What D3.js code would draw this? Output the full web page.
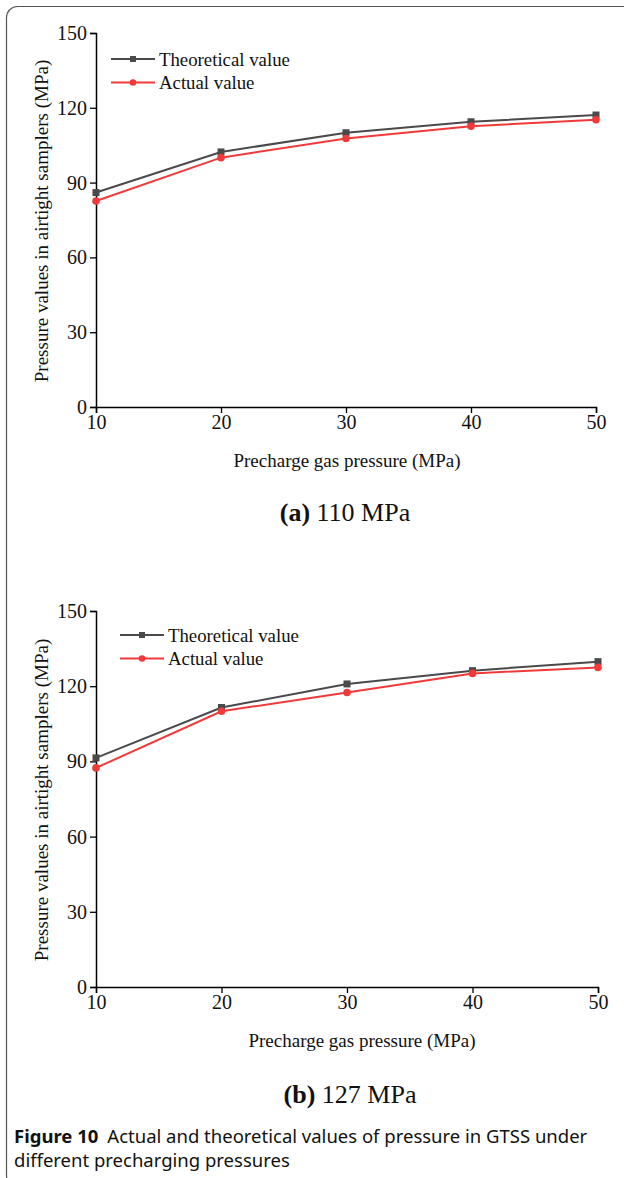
<!DOCTYPE html>
<meta charset="utf-8">
<head>
    <title>Figure 10 pressure in GTSS</title>
    <style>
        body { margin: 0; background: #fff; }
        svg text { font-family: "Liberation Serif", "Times New Roman", serif; fill: #111; }
        .cap { font-family: "Noto Sans", "Open Sans", sans-serif; }
    </style>
</head>
<body>
    <script src="https://cdn.jsdelivr.net/npm/d3@7"></script>
    <script>
        // data
        var precharge = [10, 20, 30, 40, 50];
        var theoA = [86.0, 102.3, 110.0, 114.4, 117.1];
        var actualA = [82.6, 100.0, 107.7, 112.6, 115.2];
        var theoB = [91.4, 111.5, 120.9, 126.2, 129.8];
        var actualB = [87.4, 110.0, 117.5, 125.1, 127.5];
        var yTicks = [0, 30, 60, 90, 120, 150];
        var xTicks = [10, 20, 30, 40, 50];

        var W = 624, H = 1178;
        var svg = d3.select("body").append("svg")
            .attr("width", W).attr("height", H);

        // panel frame (rounded box, right edge falls off the page)
        svg.append("rect")
            .attr("x", 6.5).attr("y", 6.5)
            .attr("width", 700).attr("height", 1180)
            .attr("rx", 11)
            .attr("fill", "none")
            .attr("stroke", "#555").attr("stroke-width", 1.2);

        function panel(opt) {
            var x = d3.scaleLinear().domain([10, 50]).range([opt.left, opt.right]);
            var y = d3.scaleLinear().domain([0, 150]).range([opt.bottom, opt.top]);
            var g = svg.append("g");

            var yAxis = g.append("g")
                .attr("transform", "translate(" + opt.left + ",0)")
                .call(d3.axisLeft(y).tickValues(yTicks).tickSize(6).tickPadding(3));
            var xAxis = g.append("g")
                .attr("transform", "translate(0," + opt.bottom + ")")
                .call(d3.axisBottom(x).tickValues(xTicks).tickSize(6).tickPadding(2));
            [xAxis, yAxis].forEach(function (a) {
                a.select(".domain").attr("stroke", "#000").attr("stroke-width", 1.5);
                a.selectAll(".tick line").attr("stroke", "#000").attr("stroke-width", 1.3);
                a.selectAll(".tick text")
                    .style("font-family", "Liberation Serif")
                    .style("font-size", "20px")
                    .attr("fill", "#111");
            });

            var line = d3.line()
                .x(function (d, i) { return x(precharge[i]); })
                .y(function (d) { return y(d); });

            // theoretical
            g.append("path").datum(opt.theo)
                .attr("d", line).attr("fill", "none")
                .attr("stroke", "#4a4a4a").attr("stroke-width", 2);
            g.selectAll(".sq").data(opt.theo).enter().append("rect")
                .attr("x", function (d, i) { return x(precharge[i]) - 3.5; })
                .attr("y", function (d) { return y(d) - 3.5; })
                .attr("width", 7).attr("height", 7)
                .attr("fill", "#4a4a4a");

            // actual
            g.append("path").datum(opt.actual)
                .attr("d", line).attr("fill", "none")
                .attr("stroke", "#f03a3a").attr("stroke-width", 2);
            g.selectAll(".ci").data(opt.actual).enter().append("circle")
                .attr("cx", function (d, i) { return x(precharge[i]); })
                .attr("cy", function (d) { return y(d); })
                .attr("r", 3.8)
                .attr("fill", "#f03a3a");

            // legend
            var lg = g.append("g");
            var items = [["Theoretical value", "#4a4a4a", "sq"], ["Actual value", "#f03a3a", "ci"]];
            items.forEach(function (it, i) {
                var ly = opt.legY + i * 23.5;
                lg.append("line")
                    .attr("x1", opt.legX).attr("x2", opt.legX + 44)
                    .attr("y1", ly).attr("y2", ly)
                    .attr("stroke", it[1]).attr("stroke-width", 2);
                if (it[2] === "sq") {
                    lg.append("rect").attr("x", opt.legX + 22 - 3).attr("y", ly - 3)
                        .attr("width", 6).attr("height", 6).attr("fill", it[1]);
                } else {
                    lg.append("circle").attr("cx", opt.legX + 22).attr("cy", ly)
                        .attr("r", 3.3).attr("fill", it[1]);
                }
                lg.append("text")
                    .attr("x", opt.legX + 48).attr("y", ly + 6.5)
                    .style("font-size", "18.8px")
                    .text(it[0]);
            });

            // axis titles
            g.append("text")
                .attr("x", opt.xTitleX)
                .attr("y", opt.bottom + 60)
                .attr("text-anchor", "middle")
                .style("font-size", "19px")
                .text("Precharge gas pressure (MPa)");
            g.append("text")
                .attr("transform", "translate(48," + ((opt.top + opt.bottom) / 2 + 1) + ") rotate(-90)")
                .attr("text-anchor", "middle")
                .style("font-size", "19px")
                .text("Pressure values in airtight samplers (MPa)");

            // sub caption
            var sc = g.append("text")
                .attr("x", opt.subX).attr("y", opt.subY)
                .attr("text-anchor", "middle")
                .style("font-size", "26px");
            sc.append("tspan").style("font-weight", "bold").text(opt.tag);
            sc.append("tspan").text(" " + opt.sub);
        }

        panel({ left: 96, right: 596, top: 33, bottom: 407, theo: theoA, actual: actualA,
                legX: 111, legY: 59, tag: "(a)", sub: "110 MPa",
                xTitleX: 347, subX: 345, subY: 521 });
        panel({ left: 96, right: 598, top: 611, bottom: 987, theo: theoB, actual: actualB,
                legX: 120, legY: 635, tag: "(b)", sub: "127 MPa",
                xTitleX: 362, subX: 350, subY: 1103 });

        // figure caption
        var c1 = svg.append("text").attr("class", "cap")
            .attr("x", 14).attr("y", 1143)
            .style("font-size", "18.5px");
        c1.append("tspan").style("font-weight", "bold").text("Figure 10");
        c1.append("tspan").attr("dx", 9).text("Actual and theoretical values of pressure in GTSS under");
        svg.append("text").attr("class", "cap")
            .attr("x", 14).attr("y", 1167)
            .style("font-size", "18.5px")
            .text("different precharging pressures");
    </script>
</body>
</html>
